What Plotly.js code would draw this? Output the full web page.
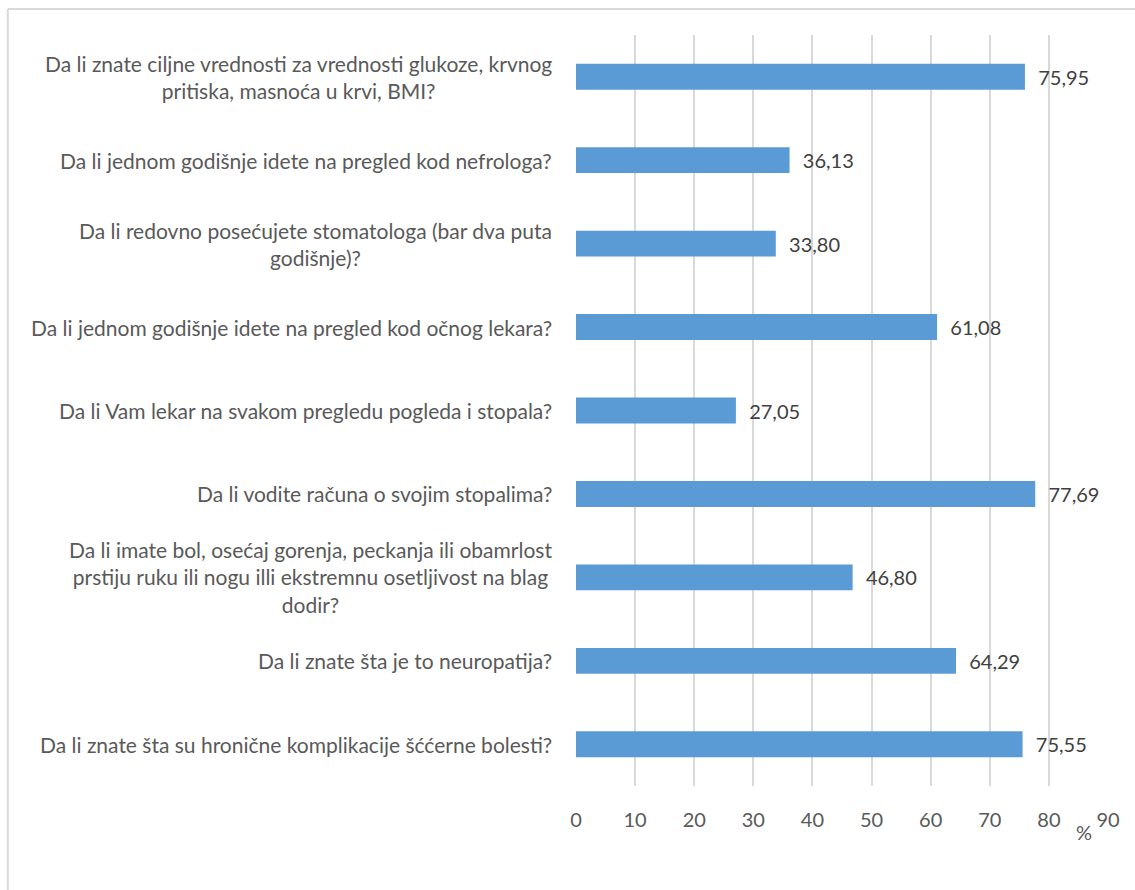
<!DOCTYPE html>
<html>
<head>
<meta charset="utf-8">
<script src="https://cdn.plot.ly/plotly-3.0.1.min.js"></script>
<style>
html,body{margin:0;padding:0;background:#fff;}
#chart{width:1135px;height:890px;}
</style>
</head>
<body>
<div id="chart"></div>
<script>
const categories = [
  "Da li znate ciljne vrednosti za vrednosti glukoze, krvnog<br>pritiska, masnoća u krvi, BMI?",
  "Da li jednom godišnje idete na pregled kod nefrologa?",
  "Da li redovno posećujete stomatologa (bar dva puta<br>godišnje)?",
  "Da li jednom godišnje idete na pregled kod očnog lekara?",
  "Da li Vam lekar na svakom pregledu pogleda i stopala?",
  "Da li vodite računa o svojim stopalima?",
  "Da li imate bol, osećaj gorenja, peckanja ili obamrlost<br>prstiju ruku ili nogu illi ekstremnu osetljivost na blag<br>dodir?",
  "Da li znate šta je to neuropatija?",
  "Da li znate šta su hronične komplikacije šććerne bolesti?"
];
const values = [75.95, 36.13, 33.80, 61.08, 27.05, 77.69, 46.80, 64.29, 75.55];
const tickValues = [0, 10, 20, 30, 40, 50, 60, 70, 80, 90];
const axisUnit = "%";

const FONT = "Lato, 'Open Sans', sans-serif";
const TXT = "#595959";

const ids = categories.map((c, i) => "c" + i);

const trace = {
  type: "bar",
  orientation: "h",
  y: ids,
  x: values,
  marker: {color: "#5b9bd5"},
  width: 0.31,
  text: values,
  texttemplate: "\u00a0\u00a0%{x:.2f}",
  textposition: "outside",
  cliponaxis: false,
  textfont: {family: FONT, size: 20, color: "#404040"},
  hoverinfo: "none"
};

const annotations = ids.map((id, i) => ({
  xref: "paper", yref: "y",
  x: 0, y: id,
  xanchor: "right", yanchor: "middle",
  xshift: -22,
  align: "center",
  showarrow: false,
  text: categories[i],
  font: {family: FONT, size: 21, color: TXT}
}));
annotations.push({
  xref: "paper", yref: "paper",
  x: 0.955, y: -0.061,
  xanchor: "center", yanchor: "middle",
  showarrow: false,
  text: axisUnit,
  font: {family: FONT, size: 20, color: TXT}
});

const layout = {
  width: 1135, height: 890,
  margin: {l: 576, r: 27, t: 35, b: 104},
  paper_bgcolor: "#ffffff",
  plot_bgcolor: "#ffffff",
  separators: ", ",
  showlegend: false,
  xaxis: {
    range: [0, 90],
    tickvals: tickValues,
    showgrid: true,
    gridcolor: "#d9d9d9",
    gridwidth: 2,
    zeroline: false,
    showline: false,
    ticks: "",
    ticklabelstandoff: 20,
    tickfont: {family: FONT, size: 20, color: TXT},
    fixedrange: true
  },
  yaxis: {
    autorange: "reversed",
    showticklabels: false,
    showgrid: false,
    zeroline: false,
    showline: false,
    ticks: "",
    fixedrange: true
  },
  annotations: annotations,
  shapes: [
    {type: "line", xref: "paper", yref: "paper", x0: -1.068, x1: 1.06, y0: 1.0346, y1: 1.0346,
     line: {color: "#d9d9d9", width: 2}},
    {type: "line", xref: "paper", yref: "paper", x0: -1.068, x1: -1.068, y0: 1.0346, y1: -0.2,
     line: {color: "#d9d9d9", width: 2}}
  ]
};

Plotly.newPlot("chart", [trace], layout, {displayModeBar: false, staticPlot: true});
</script>
</body>
</html>
